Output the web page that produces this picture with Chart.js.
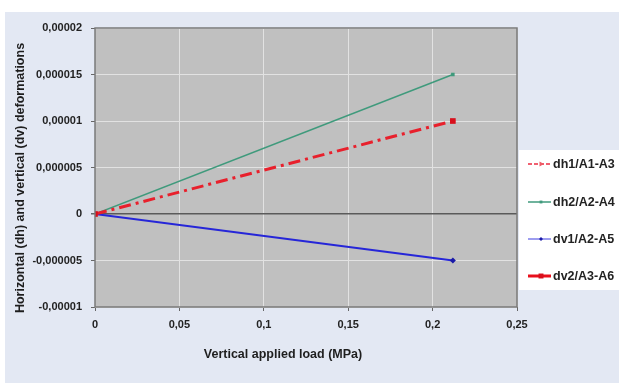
<!DOCTYPE html>
<html>
<head>
<meta charset="utf-8">
<script src="https://cdn.jsdelivr.net/npm/chart.js@4/dist/chart.umd.min.js"></script>
<style>
html,body{margin:0;padding:0;background:#ffffff;}
#wrap{width:619px;height:383px;position:relative;}
</style>
</head>
<body>
<div id="wrap"><canvas id="c" width="619" height="383"></canvas></div>
<script>
// ---- data ----
const seriesNames = ['dh1/A1-A3', 'dh2/A2-A4', 'dv1/A2-A5', 'dv2/A3-A6'];
const loadX = [0, 0.212];
const dh1 = [0, 0.00001];
const dh2 = [0, 0.000015];
const dv1 = [0, -0.000005];
const dv2 = [0, 0.00001];
const xTicks = [0, 0.05, 0.1, 0.15, 0.2, 0.25];
const xTickLabels = ['0', '0,05', '0,1', '0,15', '0,2', '0,25'];
const yTicks = [-0.00001, -0.000005, 0, 0.000005, 0.00001, 0.000015, 0.00002];
const yTickLabels = ['-0,00001', '-0,000005', '0', '0,000005', '0,00001', '0,000015', '0,00002'];
const xTitle = 'Vertical applied load (MPa)';
const yTitle = 'Horizontal (dh) and vertical (dv) deformations';

const pts = (ys) => loadX.map((x, i) => ({x: x, y: ys[i]}));

const FONT = '"Liberation Sans", Arial, sans-serif';

const datasets = [
  {label: seriesNames[0], data: pts(dh1), borderColor: '#e8202c', backgroundColor: '#ee5a66',
   borderWidth: 3, borderDash: [12, 5, 3, 5], pointStyle: 'triangle', rotation: 90, pointRadius: 3,
   pointBorderWidth: 0, showLine: true, order: 1,
   legend: {width: 2, dash: [4, 2], color: '#f06070', radius: 3}},
  {label: seriesNames[1], data: pts(dh2), borderColor: '#3f9a7c', backgroundColor: '#3f9a7c',
   borderWidth: 1.5, pointStyle: 'rect', pointRadius: 2.5, pointBorderWidth: 0, showLine: true, order: 2,
   legend: {width: 1.5, dash: [], color: '#3f9a7c', radius: 2}},
  {label: seriesNames[2], data: pts(dv1), borderColor: '#2626d8', backgroundColor: '#1a1aa8',
   borderWidth: 2, pointStyle: 'rectRot', pointRadius: 3, pointBorderWidth: 0, showLine: true, order: 3,
   legend: {width: 1, dash: [], color: '#3a3ae0', radius: 2}},
  {label: seriesNames[3], data: pts(dv2), borderColor: '#e0101c', backgroundColor: '#d8101c',
   borderWidth: 3, pointStyle: 'rect', pointRadius: 4, pointBorderWidth: 0, showLine: false, order: 0,
   legend: {width: 3, dash: [], color: '#e8101c', radius: 3.5}}
];

const decor = {
  id: 'decor',
  beforeDraw(chart) {
    const ctx = chart.ctx, a = chart.chartArea;
    ctx.save();
    ctx.fillStyle = '#ffffff';
    ctx.fillRect(0, 0, chart.width, chart.height);
    ctx.fillStyle = '#e3e8f3';
    ctx.fillRect(5, 12, chart.width - 5, chart.height - 12);
    ctx.fillStyle = '#c0c0c0';
    ctx.fillRect(a.left, a.top, a.right - a.left, a.bottom - a.top);
    ctx.restore();
  },
  afterDraw(chart) {
    const ctx = chart.ctx, a = chart.chartArea;
    ctx.save();
    // frame
    ctx.strokeStyle = '#7a7a7a';
    ctx.lineWidth = 1.5;
    ctx.strokeRect(a.left, a.top, a.right - a.left, a.bottom - a.top);
    // titles
    ctx.fillStyle = '#1e1e1e';
    ctx.font = 'bold 12.5px ' + FONT;
    ctx.textAlign = 'center';
    ctx.textBaseline = 'middle';
    ctx.fillText(xTitle, 283, 355);
    ctx.translate(21, 178);
    ctx.rotate(-Math.PI / 2);
    ctx.fillText(yTitle, 0, 0);
    ctx.restore();

    // legend
    ctx.save();
    ctx.fillStyle = '#ffffff';
    ctx.fillRect(519, 150, chart.width - 519, 140);
    const ys = [164, 202, 239, 276];
    chart.data.datasets.forEach((ds, i) => {
      const y = ys[i];
      const L = ds.legend;
      ctx.save();
      ctx.strokeStyle = L.color;
      ctx.lineWidth = L.width;
      ctx.setLineDash(L.dash);
      ctx.beginPath();
      ctx.moveTo(528, y);
      ctx.lineTo(551, y);
      ctx.stroke();
      ctx.restore();
      if (Chart.helpers && Chart.helpers.drawPoint) {
        ctx.save();
        ctx.fillStyle = ds.backgroundColor;
        ctx.strokeStyle = ds.backgroundColor;
        ctx.lineWidth = 0;
        Chart.helpers.drawPoint(ctx, {pointStyle: ds.pointStyle, radius: L.radius, rotation: ds.rotation || 0, borderWidth: 0}, 541, y);
        ctx.restore();
      }
      ctx.fillStyle = '#222222';
      ctx.font = 'bold 12.5px ' + FONT;
      ctx.textAlign = 'left';
      ctx.textBaseline = 'middle';
      ctx.fillText(ds.label, 553, y + 1);
    });
    ctx.restore();
  }
};

new Chart(document.getElementById('c'), {
  type: 'scatter',
  data: {datasets: datasets},
  options: {
    responsive: false,
    animation: false,
    devicePixelRatio: 1,
    layout: {padding: {left: 5, right: 102, top: 28, bottom: 0}},
    plugins: {legend: {display: false}, tooltip: {enabled: false}},
    scales: {
      x: {
        type: 'linear', min: 0, max: 0.25,
        afterBuildTicks: (s) => { s.ticks = xTicks.map(v => ({value: v})); },
        afterFit: (s) => { s.height = 76; },
        grid: {
          color: (c) => (c.tick && c.tick.value === 0) ? 'rgba(0,0,0,0)' : '#e2e2e2',
          lineWidth: 1, tickLength: 4, tickColor: '#666666', drawTicks: true
        },
        border: {display: false},
        ticks: {
          padding: 7, color: '#222222', font: {family: FONT, size: 11, weight: 'bold'},
          maxRotation: 0, autoSkip: false,
          callback: (v) => { const i = xTicks.findIndex(t => Math.abs(t - v) < 1e-9); return i >= 0 ? xTickLabels[i] : ''; }
        }
      },
      y: {
        type: 'linear', min: -0.00001, max: 0.00002,
        afterBuildTicks: (s) => { s.ticks = yTicks.map(v => ({value: v})); },
        afterFit: (s) => { s.width = 90; },
        grid: {
          color: (c) => (c.tick && c.tick.value === 0) ? '#5a5a5a' : '#e2e2e2',
          lineWidth: (c) => (c.tick && c.tick.value === 0) ? 1.5 : 1,
          tickLength: 4, tickColor: '#666666', drawTicks: true
        },
        border: {display: false},
        ticks: {
          padding: 9, color: '#222222', font: {family: FONT, size: 11, weight: 'bold'},
          autoSkip: false,
          callback: (v) => { const i = yTicks.findIndex(t => Math.abs(t - v) < 1e-12); return i >= 0 ? yTickLabels[i] : ''; }
        }
      }
    }
  },
  plugins: [decor]
});
</script>
</body>
</html>
